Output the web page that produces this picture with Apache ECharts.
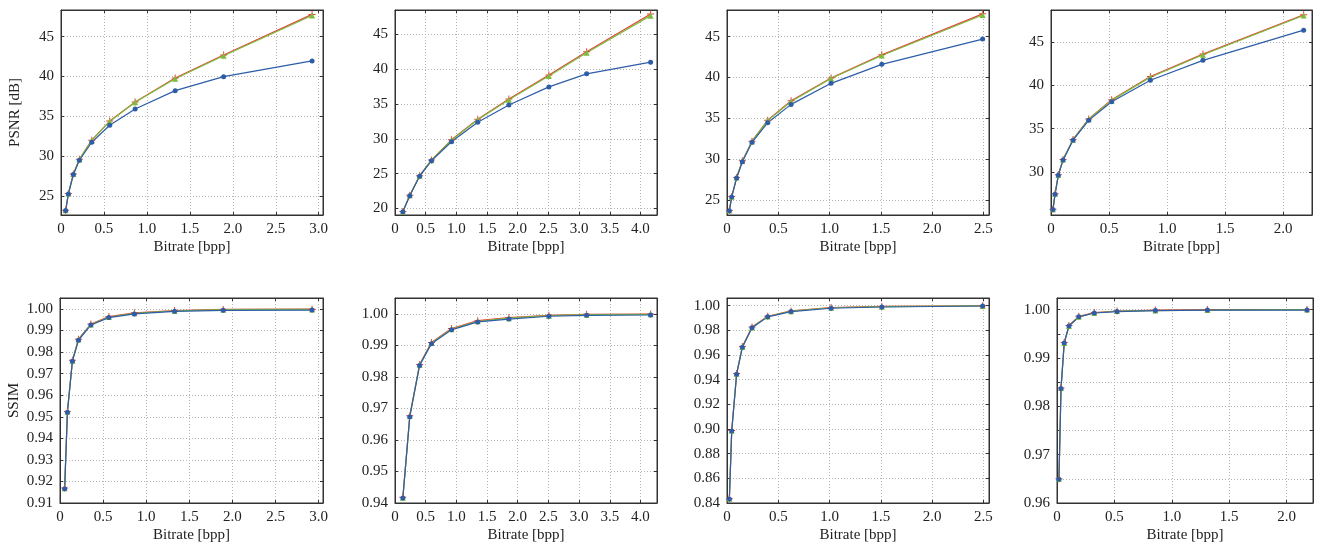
<!DOCTYPE html>
<html>
<head>
<meta charset="utf-8">
<script src="https://cdn.jsdelivr.net/npm/echarts@6/dist/echarts.min.js"></script>
<style>
  html, body { margin: 0; padding: 0; background: #fff; }
  #chart { width: 1320px; height: 548px; }
</style>
</head>
<body>
<div id="chart"></div>
<script>
// bitrate per test image (one column of panels each)
const bitrate = [
  [0.054, 0.086, 0.144, 0.214, 0.358, 0.567, 0.863, 1.329, 1.893, 2.923],
  [0.128, 0.241, 0.401, 0.594, 0.92, 1.348, 1.856, 2.508, 3.123, 4.166],
  [0.023, 0.046, 0.094, 0.150, 0.244, 0.397, 0.625, 1.015, 1.51, 2.493],
  [0.017, 0.035, 0.063, 0.104, 0.19, 0.325, 0.523, 0.857, 1.31, 2.178]
];

const psnrRed = [
  [23.2, 25.3, 27.75, 29.6, 32.0, 34.4, 36.8, 39.8, 42.7, 47.8],
  [19.55, 21.88, 24.7, 26.95, 29.85, 32.8, 35.7, 39.15, 42.5, 47.93],
  [23.72, 25.42, 27.76, 29.8, 32.2, 34.78, 37.15, 39.95, 42.78, 47.8],
  [25.72, 27.5, 29.68, 31.45, 33.75, 36.12, 38.32, 41.0, 43.58, 48.12]
];
const psnrGreen = [
  [23.2, 25.3, 27.74, 29.58, 31.97, 34.35, 36.75, 39.72, 42.6, 47.66],
  [19.55, 21.87, 24.68, 26.92, 29.8, 32.72, 35.6, 39.02, 42.35, 47.69],
  [23.72, 25.41, 27.75, 29.78, 32.17, 34.72, 37.07, 39.88, 42.7, 47.65],
  [25.72, 27.49, 29.67, 31.43, 33.72, 36.07, 38.25, 40.92, 43.5, 48.03]
];
const psnrBlue = [
  [23.16, 25.25, 27.68, 29.48, 31.74, 33.87, 35.92, 38.22, 39.98, 41.95],
  [19.52, 21.83, 24.62, 26.83, 29.57, 32.36, 34.86, 37.45, 39.33, 41.0],
  [23.69, 25.37, 27.69, 29.69, 32.06, 34.47, 36.71, 39.29, 41.61, 44.71],
  [25.69, 27.44, 29.62, 31.37, 33.66, 35.95, 38.09, 40.57, 42.86, 46.34]
];

const ssimRed = [
  [0.917, 0.9525, 0.9762, 0.986, 0.993, 0.9965, 0.9982, 0.9993, 0.9998, 0.9999],
  [0.9418, 0.9677, 0.984, 0.991, 0.9954, 0.9979, 0.9989, 0.9996, 0.9999, 1.0],
  [0.8435, 0.8988, 0.945, 0.9668, 0.9826, 0.9914, 0.9957, 0.9985, 0.9994, 0.9999],
  [0.965, 0.9838, 0.9932, 0.9967, 0.9986, 0.9994, 0.9997, 0.9999, 1.0, 1.0]
];
const ssimGreen = [
  [0.9168, 0.9523, 0.976, 0.9858, 0.9928, 0.9963, 0.998, 0.9991, 0.9997, 0.9998],
  [0.9417, 0.9676, 0.9839, 0.9908, 0.9952, 0.9977, 0.9987, 0.9995, 0.9998, 0.9999],
  [0.8434, 0.8986, 0.9447, 0.9665, 0.9823, 0.9912, 0.9955, 0.9983, 0.9992, 0.9998],
  [0.965, 0.9838, 0.9931, 0.9966, 0.9985, 0.9993, 0.9997, 0.9998, 0.9999, 1.0]
];
const ssimBlue = [
  [0.9166, 0.9521, 0.9758, 0.9855, 0.9926, 0.996, 0.9977, 0.9989, 0.9994, 0.9995],
  [0.9416, 0.9674, 0.9837, 0.9906, 0.995, 0.9975, 0.9984, 0.9993, 0.9996, 0.9997],
  [0.8432, 0.8983, 0.9444, 0.9662, 0.982, 0.9909, 0.9952, 0.9979, 0.9989, 0.9997],
  [0.9649, 0.9837, 0.9931, 0.9966, 0.9985, 0.9993, 0.9996, 0.9998, 0.9999, 0.9999]
];

// axis ranges
const xMax = [3.05, 4.27, 2.555, 2.25];
const xMaxBottom = [3.05, 4.27, 2.555, 2.23];
const psnrRange = [[22.6, 48.35], [19.05, 48.5], [23.16, 48.27], [25.05, 48.66]];
const ssimRange = [[0.91, 1.0051], [0.94, 1.0051], [0.84, 1.0062], [0.96, 1.0024]];
const ssimStep = [0.01, 0.01, 0.02, 0.005];

const FONT = 'Liberation Serif';
const INK = '#222';
const RED = '#e8403a', GREEN = '#7cbd3c', BLUE = '#2d5da8';
const PLUS = 'path://M3,0h1v7h-1z M0,3h7v1h-7z';

const chart = echarts.init(document.getElementById('chart'));

const grids = [], xAxes = [], yAxes = [], series = [];

const labelStyle = { fontFamily: FONT, fontSize: 15, color: INK };
const lineStyle = { color: '#333', width: 1 };
const grid = { show: true, lineStyle: { color: '#b5b5b5', type: [1, 2], width: 1 } };

function addPanel(row, col, box) {
  const gi = grids.length;
  grids.push(Object.assign({ show: true, borderColor: '#333', borderWidth: 1 }, box));
  const bottom = row === 1;
  const xm = bottom ? xMaxBottom[col] : xMax[col];
  const xBase = {
    type: 'value', gridIndex: gi, min: 0, max: xm,
    splitNumber: col === 1 ? 8 : 5,
    axisLine: { show: true, onZero: false, lineStyle },
    axisTick: { show: true, inside: true, length: 3, lineStyle }
  };
  xAxes.push(Object.assign({}, xBase, {
    position: 'bottom',
    name: 'Bitrate [bpp]', nameLocation: 'middle', nameGap: 25,
    nameTextStyle: labelStyle,
    axisLabel: Object.assign({ margin: 7, showMaxLabel: false,
      formatter: v => v === 0 ? '0' : v.toFixed(1) }, labelStyle),
    splitLine: grid
  }));
  xAxes.push(Object.assign({}, xBase, {
    position: 'top', axisLabel: { show: false }, splitLine: { show: false }
  }));

  let yBase;
  if (!bottom) {
    yBase = {
      type: 'value', gridIndex: gi, min: psnrRange[col][0], max: psnrRange[col][1],
      splitNumber: 5
    };
  } else {
    yBase = {
      type: 'value', gridIndex: gi, min: ssimRange[col][0], max: ssimRange[col][1],
      interval: ssimStep[col]
    };
  }
  yBase.axisLine = { show: true, onZero: false, lineStyle };
  yBase.axisTick = { show: true, inside: true, length: 3, lineStyle };
  const yMain = Object.assign({}, yBase, {
    position: 'left',
    axisLabel: Object.assign({ margin: 7, showMaxLabel: false, showMinLabel: bottom,
      formatter: v => {
        if (!bottom) return String(Math.round(v));
        if (col === 3 && Math.round(v * 1000) % 10 !== 0) return '';
        return v.toFixed(2);
      } }, labelStyle),
    splitLine: grid
  });
  if (col === 0) {
    yMain.name = bottom ? 'SSIM' : 'PSNR [dB]';
    yMain.nameLocation = 'middle';
    yMain.nameGap = 38;
    yMain.nameTextStyle = labelStyle;
  }
  yAxes.push(yMain);
  yAxes.push(Object.assign({}, yBase, {
    position: 'right', axisLabel: { show: false }, splitLine: { show: false }
  }));

  const xi = gi * 2, yi = gi * 2;
  const sets = bottom
    ? [[ssimRed, RED, PLUS, 7], [ssimGreen, GREEN, 'triangle', 6], [ssimBlue, BLUE, 'circle', 5]]
    : [[psnrRed, RED, PLUS, 7], [psnrGreen, GREEN, 'triangle', 6], [psnrBlue, BLUE, 'circle', 5]];
  sets.forEach(([arr, color, symbol, size]) => {
    series.push({
      type: 'line', xAxisIndex: xi, yAxisIndex: yi,
      data: bitrate[col].map((b, k) => [b, arr[col][k]]),
      symbol, symbolSize: size, showSymbol: true,
      lineStyle: { color, width: 1.2 },
      itemStyle: { color },
      animation: false, silent: true
    });
  });
}

const lefts = [61, 395, 727, 1051];
const widths = [262, 262, 262, 261];
for (let c = 0; c < 4; c++) {
  addPanel(0, c, { left: lefts[c], top: 10, width: widths[c], height: 205 });
}
const leftsB = [60, 395, 727, 1057];
const widthsB = [263, 262, 262, 256];
for (let c = 0; c < 4; c++) {
  addPanel(1, c, { left: leftsB[c], top: 298, width: widthsB[c], height: 205 });
}

chart.setOption({
  animation: false,
  grid: grids,
  xAxis: xAxes,
  yAxis: yAxes,
  series
});
</script>
</body>
</html>
